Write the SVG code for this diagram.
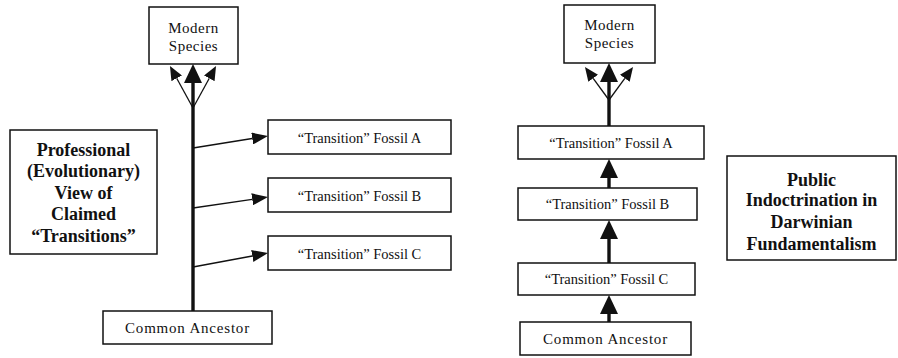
<svg xmlns="http://www.w3.org/2000/svg" width="898" height="358" viewBox="0 0 898 358">
<style>
.box{fill:#fff;stroke:#111;stroke-width:1.5}
.lbl{font-family:"Liberation Serif","Times New Roman",serif;font-size:14.5px;fill:#111;text-anchor:middle}
.sm{font-size:15px;letter-spacing:0.5px}
.ca{font-size:15px;letter-spacing:0.8px}
.ttl{font-family:"Liberation Serif","Times New Roman",serif;font-size:18px;font-weight:bold;fill:#111;text-anchor:middle}
.thick{stroke:#111;stroke-width:3.4;fill:none}
.thin{stroke:#111;stroke-width:1.3;fill:none}
</style>
<defs>
<marker id="big" markerUnits="userSpaceOnUse" markerWidth="19" markerHeight="18" refX="0" refY="9" orient="auto"><path d="M0,0 L19,9 L0,18 z" fill="#111"/></marker>
<marker id="sml" markerUnits="userSpaceOnUse" markerWidth="14" markerHeight="12" refX="0" refY="6" orient="auto"><path d="M0,0 L14,6 L0,12 z" fill="#111"/></marker>
<marker id="mid" markerUnits="userSpaceOnUse" markerWidth="16" markerHeight="12" refX="0" refY="6" orient="auto"><path d="M0,0 L16,6 L0,12 z" fill="#111"/></marker>
</defs>
<g id="connectors">
<line class="thick" x1="193" y1="311" x2="193" y2="83" marker-end="url(#big)"/>
<line class="thin" x1="193" y1="108" x2="176.7" y2="78.3" marker-end="url(#sml)"/>
<line class="thin" x1="193" y1="108" x2="209.3" y2="78.3" marker-end="url(#sml)"/>
<line class="thin" x1="193" y1="148" x2="252.2" y2="138.5" marker-end="url(#mid)"/>
<line class="thin" x1="193" y1="208" x2="252.2" y2="199.3" marker-end="url(#mid)"/>
<line class="thin" x1="193" y1="267" x2="252.3" y2="256" marker-end="url(#mid)"/>
<line class="thick" x1="609" y1="126" x2="609" y2="82" marker-end="url(#big)"/>
<line class="thin" x1="609" y1="100" x2="593.2" y2="78.3" marker-end="url(#sml)"/>
<line class="thin" x1="609" y1="100" x2="624.8" y2="78.3" marker-end="url(#sml)"/>
<line class="thick" x1="609" y1="188" x2="609" y2="178" marker-end="url(#big)"/>
<line class="thick" x1="609" y1="263" x2="609" y2="239" marker-end="url(#big)"/>
<line class="thick" x1="609" y1="322" x2="609" y2="314" marker-end="url(#big)"/>
</g>
<g id="left-modern">
<rect class="box" x="149" y="7" width="89" height="57"/>
<text class="lbl sm" x="193.5" y="33">Modern</text>
<text class="lbl sm" x="193.5" y="51">Species</text>
</g>
<g id="left-fossil-a">
<rect class="box" x="268" y="120" width="183" height="34"/>
<text class="lbl" x="359.5" y="143">“Transition” Fossil A</text>
</g>
<g id="left-fossil-b">
<rect class="box" x="268" y="178" width="183" height="34"/>
<text class="lbl" x="359.5" y="201">“Transition” Fossil B</text>
</g>
<g id="left-fossil-c">
<rect class="box" x="268" y="236" width="183" height="34"/>
<text class="lbl" x="359.5" y="259">“Transition” Fossil C</text>
</g>
<g id="left-ancestor">
<rect class="box" x="103" y="311" width="169" height="33"/>
<text class="lbl ca" x="187.5" y="333">Common Ancestor</text>
</g>
<g id="professional">
<rect class="box" x="10" y="130" width="147" height="124"/>
<text class="ttl" x="83.5" y="156">Professional</text>
<text class="ttl" x="83.5" y="177">(Evolutionary)</text>
<text class="ttl" x="83.5" y="199">View of</text>
<text class="ttl" x="83.5" y="220">Claimed</text>
<text class="ttl" x="83.5" y="242">“Transitions”</text>
</g>
<g id="right-modern">
<rect class="box" x="564" y="5" width="91" height="58"/>
<text class="lbl sm" x="609.5" y="30">Modern</text>
<text class="lbl sm" x="609.5" y="48">Species</text>
</g>
<g id="right-fossil-a">
<rect class="box" x="518" y="126" width="186" height="33"/>
<text class="lbl" x="611" y="148">“Transition” Fossil A</text>
</g>
<g id="right-fossil-b">
<rect class="box" x="518" y="188" width="179" height="32"/>
<text class="lbl" x="607.5" y="209">“Transition” Fossil B</text>
</g>
<g id="right-fossil-c">
<rect class="box" x="518" y="263" width="177" height="32"/>
<text class="lbl" x="606.5" y="284">“Transition” Fossil C</text>
</g>
<g id="right-ancestor">
<rect class="box" x="520" y="322" width="171" height="33"/>
<text class="lbl ca" x="605.5" y="344">Common Ancestor</text>
</g>
<g id="public">
<rect class="box" x="727" y="156" width="169" height="104"/>
<text class="ttl" x="811.5" y="186">Public</text>
<text class="ttl" x="811.5" y="206">Indoctrination in</text>
<text class="ttl" x="811.5" y="228">Darwinian</text>
<text class="ttl" x="811.5" y="250">Fundamentalism</text>
</g>
</svg>
